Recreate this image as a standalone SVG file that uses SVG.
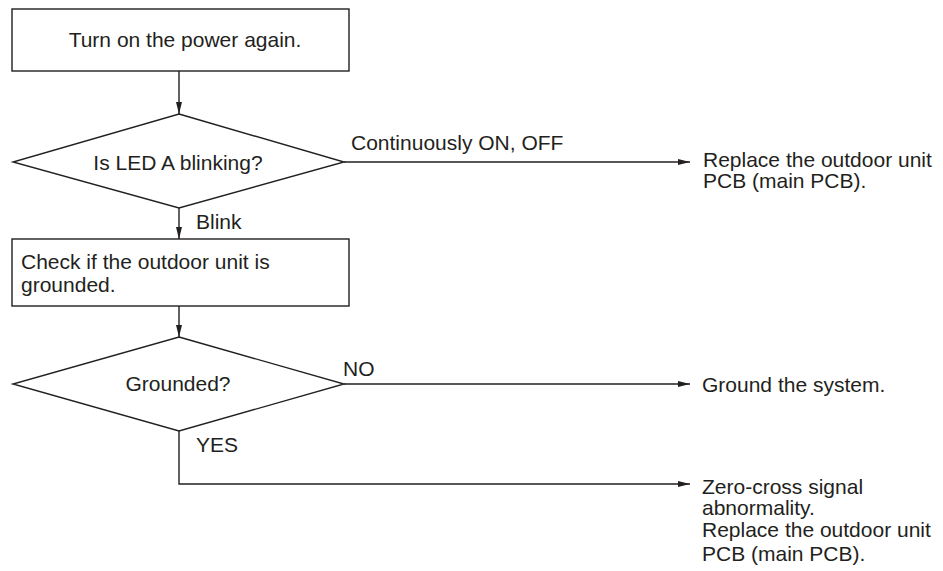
<svg xmlns="http://www.w3.org/2000/svg" width="943" height="571" viewBox="0 0 943 571">
<defs>
<marker id="ah" viewBox="0 0 12 6" refX="12" refY="3" markerWidth="12" markerHeight="6" markerUnits="userSpaceOnUse" orient="auto">
<path d="M0,0 L12,3 L0,6 Z" fill="#231f20"/>
</marker>
<style>
.shape{fill:#fff;stroke:#231f20;stroke-width:1.4}
.conn{fill:none;stroke:#231f20;stroke-width:1.4}
text{font-family:"Liberation Sans",Arial,sans-serif;font-size:21px;fill:#231f20}
.c{text-anchor:middle}
</style>
</defs>
<rect width="943" height="571" fill="#fff"/>
<g id="connectors">
<path class="conn" d="M179,71 V114" marker-end="url(#ah)"/>
<path class="conn" d="M179,208 V239" marker-end="url(#ah)"/>
<path class="conn" d="M179,306 V337" marker-end="url(#ah)"/>
<path class="conn" d="M344,162 H690" marker-end="url(#ah)"/>
<path class="conn" d="M344,384 H690" marker-end="url(#ah)"/>
<path class="conn" d="M179,431 V484 H690" marker-end="url(#ah)"/>
<text x="351" y="150">Continuously ON, OFF</text>
<text x="196" y="229">Blink</text>
<text x="343" y="376">NO</text>
<text x="196" y="452">YES</text>
</g>
<g id="start">
<rect class="shape" x="12" y="9" width="337" height="62"/>
<text class="c" x="185" y="47">Turn on the power again.</text>
</g>
<g id="dec1">
<polygon class="shape" points="179,114 344,162 179,208 13,162"/>
<text class="c" x="178" y="170">Is LED A blinking?</text>
</g>
<g id="check">
<rect class="shape" x="12" y="239" width="337" height="67"/>
<text x="21" y="269">Check if the outdoor unit is</text>
<text x="21" y="292">grounded.</text>
</g>
<g id="dec2">
<polygon class="shape" points="179,337 344,384 179,431 13,384"/>
<text class="c" x="178" y="391">Grounded?</text>
</g>
<g id="replace1">
<text x="703" y="167">Replace the outdoor unit</text>
<text x="703" y="188">PCB (main PCB).</text>
</g>
<g id="ground">
<text x="702" y="392">Ground the system.</text>
</g>
<g id="zerocross">
<text x="702" y="494">Zero-cross signal</text>
<text x="702" y="515">abnormality.</text>
<text x="702" y="537">Replace the outdoor unit</text>
<text x="702" y="561">PCB (main PCB).</text>
</g>
</svg>
